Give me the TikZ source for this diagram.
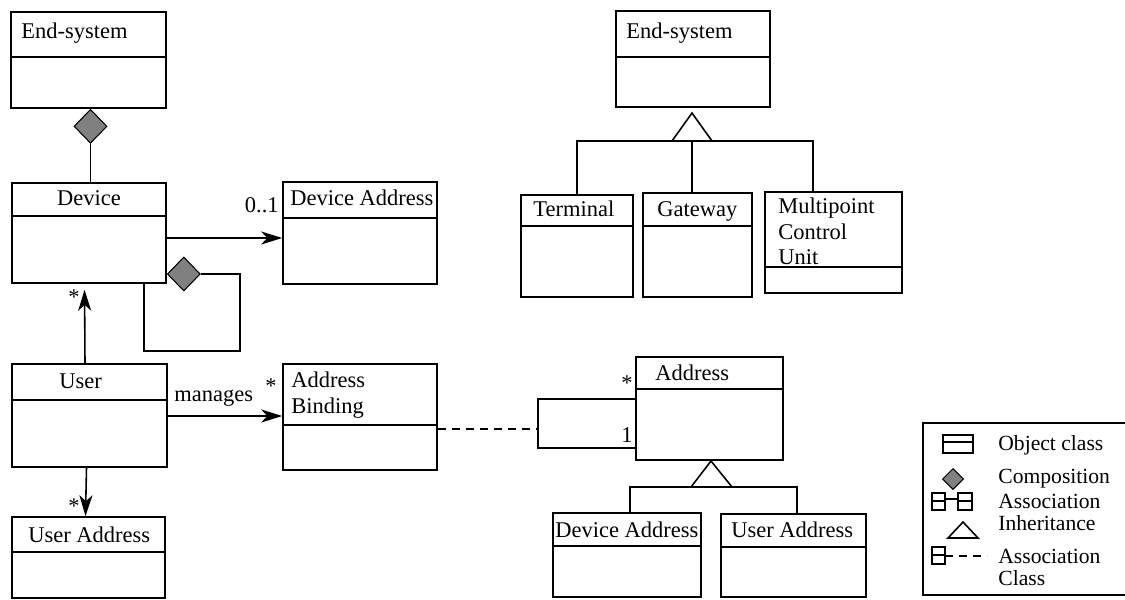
\documentclass[tikz,border=0pt]{standalone}
\usepackage{fontspec}
\setmainfont{Liberation Serif}
\newfontfamily\umlfont{Liberation Serif}
\usetikzlibrary{arrows.meta,shapes.geometric,fit}

\tikzset{
  line/.style={line width=0.9pt},
  classbox/.style={draw, line width=0.9pt, inner sep=0pt},
  title/.style={anchor=west, inner sep=0pt, font=\umlfont\fontsize{12.8}{14.5}\selectfont},
  legtext/.style={anchor=west, inner sep=0pt, font=\umlfont\fontsize{12.3}{14}\selectfont},
  comp/.style={diamond, draw, line width=0.6pt, fill=black!50, inner sep=0pt,
    minimum width=0.66cm, minimum height=0.68cm},
  assoc/.style={line width=0.9pt, -{Stealth[length=4.2mm, width=2.6mm, inset=1.2mm]}},
  assocclass/.style={line width=0.9pt, dash pattern=on 0.16cm off 0.12cm}
}

\begin{document}
\begin{tikzpicture}[x=0.02cm, y=-0.02cm]

    \useasboundingbox (0,0) rectangle (1125,599);

    % Left column: End-system, Device, User, User Address
    \node[classbox, fit={(11,12) (166,108)}] (es1) {};
    \draw[line] (11,57) -- (166,57);
    \node[title] (es1-t) at (21,33) {End-system};

    \node[classbox, fit={(12,183) (166,283)}] (dev) {};
    \draw[line] (12,216) -- (166,216);
    \node[title, anchor=center] (dev-t) at (89,198) {Device};

    \node[classbox, fit={(12,364) (167,467)}] (user) {};
    \draw[line] (12,400) -- (167,400);
    \node[title] (user-t) at (59,381) {User};

    \node[classbox, fit={(12,517) (165,598)}] (uad) {};
    \draw[line] (12,552) -- (165,552);
    \node[title] (uad-t) at (28,535) {User Address};

    % Middle column: Device Address, Address Binding
    \node[classbox, fit={(283,182) (437,284)}] (dad) {};
    \draw[line] (283,218) -- (437,218);
    \node[title] (dad-t) at (290,198) {Device Address};

    \node[classbox, fit={(283,364) (437,470)}] (bind) {};
    \draw[line] (283,425) -- (437,425);
    \node[title, anchor=north west, align=left] (bind-t) at (291,372) {Address\\Binding};

    % Right side: End-system and its subclasses
    \node[classbox, fit={(616,11) (770,107)}] (es2) {};
    \draw[line] (616,57) -- (770,57);
    \node[title] (es2-t) at (626,33) {End-system};

    \node[classbox, fit={(521,195) (633,297)}] (term) {};
    \draw[line] (521,226) -- (633,226);
    \node[title] (term-t) at (533,209) {Terminal};

    \node[classbox, fit={(643,193) (752,297)}] (gw) {};
    \draw[line] (643,226) -- (752,226);
    \node[title] (gw-t) at (657,211) {Gateway};

    \node[classbox, fit={(765,192) (902,293)}] (mcu) {};
    \draw[line] (765,267) -- (902,267);
    \node[title, anchor=north west, align=left] (mcu-t) at (778,198) {Multipoint\\Control\\Unit};

    % Address and its subclasses
    \node[classbox, fit={(636,357) (783,460)}] (adr) {};
    \draw[line] (636,389) -- (783,389);
    \node[title] (adr-t) at (655,373) {Address};

    \node[classbox, fit={(553,513) (701,597)}] (da2) {};
    \draw[line] (553,546) -- (701,546);
    \node[title] (da2-t) at (555,530) {Device Address};

    \node[classbox, fit={(721,514) (866,597)}] (ua2) {};
    \draw[line] (721,547) -- (866,547);
    \node[title] (ua2-t) at (731,530) {User Address};

    % Composition End-system -- Device
    \node[comp, anchor=north] (c1) at ([xshift=0.04cm]es1.south) {};
    \draw[line] (c1.south) -- (c1.south |- dev.north);

    % Self composition of Device
    \node[comp, anchor=west] (c2) at (dev.east |- 0,274) {};
    \draw[line] (c2.east) -| (240,351) -| (dev.south -| 144,0);

    % Associations
    \draw[assoc] (dev.east |- 0,238) -- (dad.west |- 0,238);
    \node[title, anchor=east] (m1) at (279,205) {0..1};

    \draw[assoc, shorten >=0.12cm] ([xshift=-0.09cm]user.north) -- ([xshift=-0.09cm]dev.south);
    \node[title] (m2) at (68,297) {*};

    \draw[assoc] (user.east |- 0,416) -- (bind.west |- 0,416);
    \node[title] (m3) at (174,398) {manages};
    \node[title] (m4) at (265,386) {*};

    \draw[assoc] ([xshift=-0.06cm]user.south) -- ([xshift=-0.06cm]uad.north);
    \node[title] (m5) at (68,506) {*};

    % Address Binding as association class on the Address loop
    \coordinate (lp) at (538,429);
    \draw[assocclass] (bind.east |- lp) -- (lp);
    \draw[line] (adr.west |- 0,399) -| (lp) |- (adr.west |- 0,448);
    \node[title, anchor=east] (m6) at (633,383) {*};
    \node[title, anchor=east] (m7) at (633,435) {1};

    % Inheritance End-system
    \coordinate (h1) at (692,141);
    \draw[line] (692,113) -- (672,141) -- (712,141) -- cycle;
    \draw[line] (term.north) |- (h1) -| (mcu.north -| 813,0);
    \draw[line] (h1) -- (gw.north -| h1);

    % Inheritance Address
    \coordinate (h2) at (711,487);
    \draw[line] (711,461) -- (691,487) -- (732,487) -- cycle;
    \draw[line] (da2.north -| 630,0) |- (h2) -| (ua2.north -| 797,0);

    % Legend
    \node[classbox, fit={(923,423) (1140,595)}] (leg) {};
    \draw[line] (943,435) rectangle (973,453) (943,442) -- (973,442);
    \node[legtext] (l1) at (998,445) {Object class};
    \node[comp, minimum width=0.42cm, minimum height=0.42cm] (lc) at (953,479) {};
    \node[legtext] (l2) at (998,479) {Composition};
    \draw[line] (932,493) rectangle (945,510) (932,501) -- (945,501);
    \draw[line] (958,493) rectangle (972,510) (958,501) -- (972,501);
    \draw[line] (945,499) -- (958,499);
    \node[legtext] (l3) at (998,501) {Association};
    \draw[line] (963,522) -- (948,538) -- (978,538) -- cycle;
    \node[legtext] (l4) at (998,523) {Inheritance};
    \draw[line] (932,547) rectangle (945,564) (932,555) -- (945,555);
    \draw[assocclass] (945,556) -- (987,556);
    \node[legtext] (l5) at (998,556) {Association};
    \node[legtext] (l6) at (998,578) {Class};

\end{tikzpicture}
\end{document}
